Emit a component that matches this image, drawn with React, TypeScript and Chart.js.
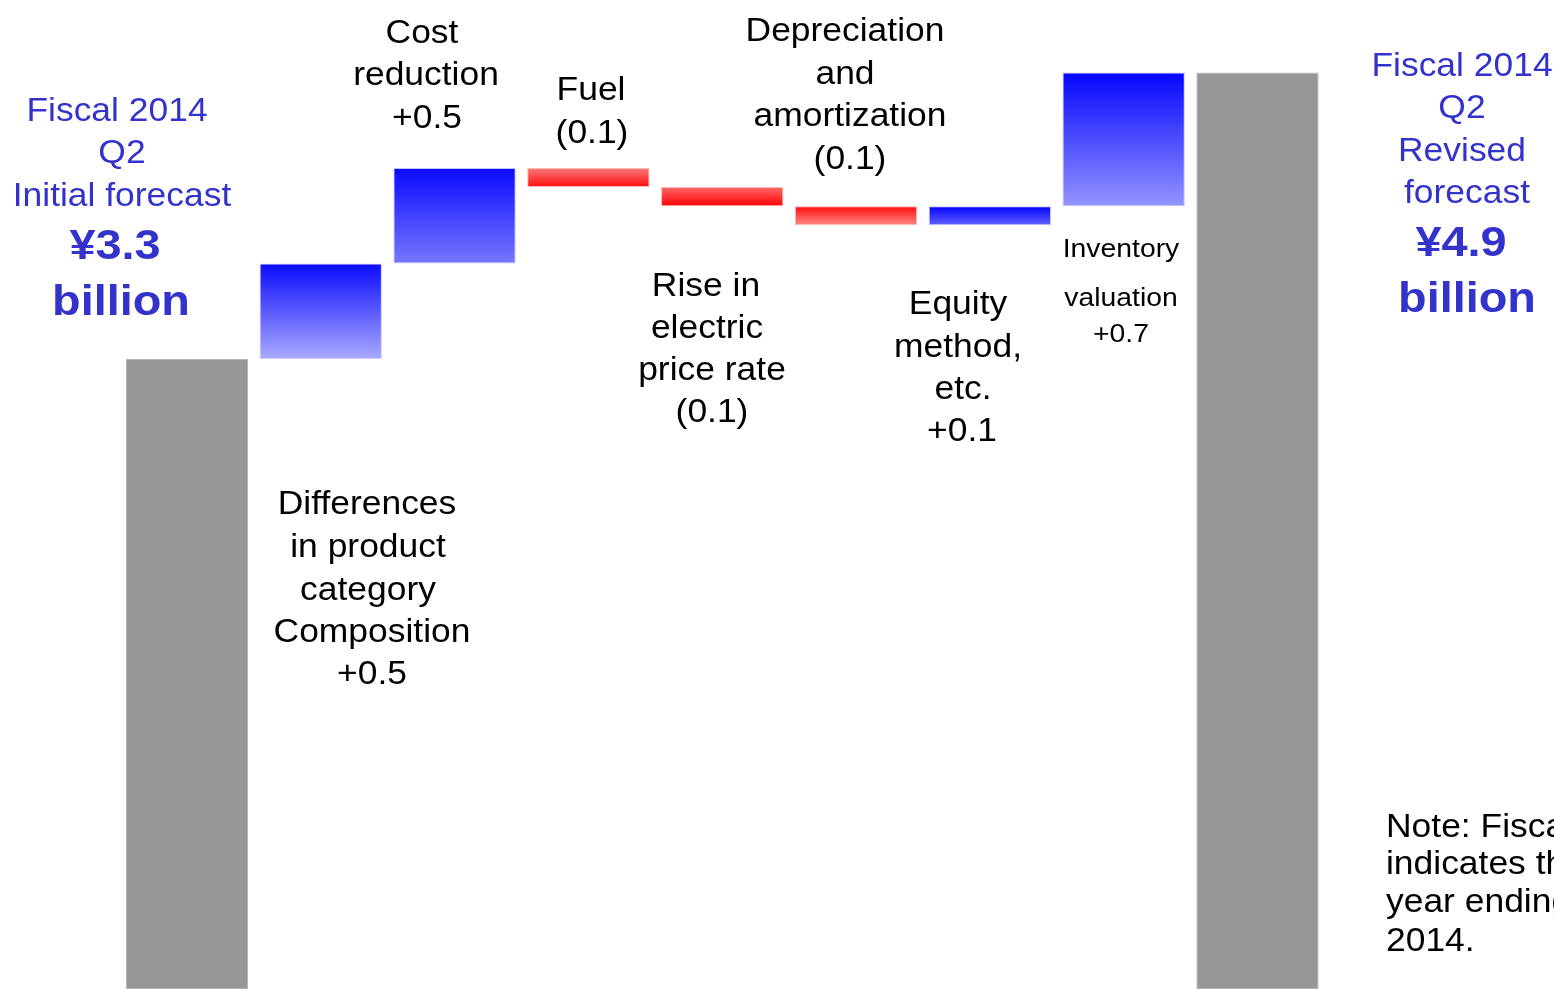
import React, { useEffect, useRef } from "react";
import { Chart, registerables } from "chart.js";

Chart.register(...registerables);

// ---- data (¥ billion) ----
const categories = [
  "Fiscal 2014 Q2 Initial forecast",
  "Differences in product category Composition",
  "Cost reduction",
  "Fuel",
  "Rise in electric price rate",
  "Depreciation and amortization",
  "Equity method, etc.",
  "Inventory valuation",
  "Fiscal 2014 Q2 Revised forecast",
];
const initialForecast = 3.3;
const changes = [0.5, 0.5, -0.1, -0.1, -0.1, 0.1, 0.7];
const revisedForecast = 4.8; // drawn height of the final bar (labelled ¥4.9)
const yMin = 0;
const yMax = 5.18;

// ---- styles ----
const GRAY = "#979797";
const barTop = ["#979797", "#0a0aff", "#0a0aff", "#ff7a7a", "#ff6a6a", "#ff0a0a", "#0000ff", "#0606ff", "#979797"];
const barBottom = ["#979797", "#aaaaff", "#7777ff", "#ff0d0d", "#ff0000", "#ff8a8a", "#6262ff", "#9494ff", "#979797"];
const barBorder = ["#b4b4b4", "#ccccff", "#c4c4ff", "#ffb8b8", "#ffb8b8", "#ffb8b8", "#c4c4ff", "#c4c4ff", "#b4b4b4"];

type Line = { t: string; x: number; y: number; size: number; bold?: boolean; color: string; align?: CanvasTextAlign };

const BLUE = "#3333cc";
const BLACK = "#000000";
const R = 32.5;
const DY = 2;
const L = (t: string, x: number, y: number, color = BLACK, size = R, bold = false, align: CanvasTextAlign = "center"): Line => ({ t, x, y: y + DY, size, bold, color, align });

const textLines: Line[] = [
  L("Fiscal 2014", 117, 110, BLUE),
  L("Q2", 122, 152, BLUE),
  L("Initial forecast", 122, 195, BLUE),
  L("¥3.3", 115, 245, BLUE, 43, true),
  L("billion", 121, 301, BLUE, 43, true),

  L("Differences", 367, 503),
  L("in product", 368, 546),
  L("category", 368, 589),
  L("Composition", 372, 631),
  L("+0.5", 372, 673),

  L("Cost", 422, 32),
  L("reduction", 426, 74),
  L("+0.5", 427, 117),

  L("Fuel", 591, 89),
  L("(0.1)", 592, 132),

  L("Rise in", 706, 285),
  L("electric", 707, 327),
  L("price rate", 712, 369),
  L("(0.1)", 712, 411),

  L("Depreciation", 845, 30),
  L("and", 845, 73),
  L("amortization", 850, 115),
  L("(0.1)", 850, 158),

  L("Equity", 958, 303),
  L("method,", 958, 346),
  L("etc.", 963, 388),
  L("+0.1", 962, 430),

  L("Inventory", 1121, 248, BLACK, 26),
  L("valuation", 1121, 297, BLACK, 26),
  L("+0.7", 1121, 333, BLACK, 26),

  L("Fiscal 2014", 1462, 65, BLUE),
  L("Q2", 1462, 107, BLUE),
  L("Revised", 1462, 150, BLUE),
  L("forecast", 1467, 192, BLUE),
  L("¥4.9", 1461, 242, BLUE, 43, true),
  L("billion", 1467, 298, BLUE, 43, true),

  L("Note: Fiscal 2014", 1386, 826, BLACK, R, false, "left"),
  L("indicates the fiscal", 1386, 863, BLACK, R, false, "left"),
  L("year ending March", 1386, 901, BLACK, R, false, "left"),
  L("2014.", 1386, 940, BLACK, R, false, "left"),
];

const textPlugin = {
  id: "slideText",
  afterDraw(chart: any) {
    const c: CanvasRenderingContext2D = chart.ctx;
    for (const ln of textLines) {
      c.save();
      c.font = `${ln.bold ? "bold " : ""}${ln.size}px "Liberation Sans", Arial, sans-serif`;
      c.fillStyle = ln.color;
      c.textBaseline = "middle";
      c.textAlign = ln.align || "center";
      c.translate(ln.x, ln.y);
      c.scale(1.09, 1);
      c.fillText(ln.t, 0, 0);
      c.restore();
    }
  },
};

function buildRanges(): [number, number][] {
  const out: [number, number][] = [[yMin, initialForecast]];
  let cur = initialForecast;
  for (const d of changes) {
    const next = Math.round((cur + d) * 1000) / 1000;
    out.push([Math.min(cur, next), Math.max(cur, next)]);
    cur = next;
  }
  out.push([yMin, revisedForecast]);
  return out;
}

export default function App() {
  const ref = useRef<HTMLCanvasElement | null>(null);

  useEffect(() => {
    document.body.style.margin = "0";
    const canvas = ref.current;
    if (!canvas) return;
    const ranges = buildRanges();
    const chart = new Chart(canvas, {
      type: "bar",
      data: {
        labels: categories,
        datasets: [
          {
            data: ranges as any,
            backgroundColor: (ctx: any) => {
              const i = ctx.dataIndex ?? 0;
              const chartObj = ctx.chart;
              const area = chartObj.chartArea;
              if (!area || ctx.type !== "data") return barTop[i] || GRAY;
              const y = chartObj.scales.y;
              const [lo, hi] = ctx.raw as [number, number];
              const top = y.getPixelForValue(hi);
              const bottom = y.getPixelForValue(lo);
              const g = chartObj.ctx.createLinearGradient(0, top, 0, Math.max(bottom, top + 1));
              g.addColorStop(0, barTop[i]);
              g.addColorStop(1, barBottom[i]);
              return g;
            },
            borderColor: barBorder,
            borderWidth: 1,
            borderSkipped: false,
            barPercentage: 0.914,
            categoryPercentage: 1,
          },
        ],
      },
      options: {
        responsive: false,
        animation: false,
        layout: { padding: { left: 120, right: 229.6, top: 0, bottom: 0 } },
        plugins: { legend: { display: false }, tooltip: { enabled: false } },
        scales: {
          x: { type: "category", display: false, offset: true, grid: { display: false } },
          y: { type: "linear", display: false, min: yMin, max: yMax, grid: { display: false } },
        },
      },
      plugins: [textPlugin],
    });
    return () => chart.destroy();
  }, []);

  return (
    <div style={{ position: "absolute", left: 0, top: 0, width: 1554, height: 989, background: "#ffffff", overflow: "hidden" }}>
      <canvas ref={ref} width={1554} height={989} style={{ display: "block", width: 1554, height: 989 }} />
    </div>
  );
}
